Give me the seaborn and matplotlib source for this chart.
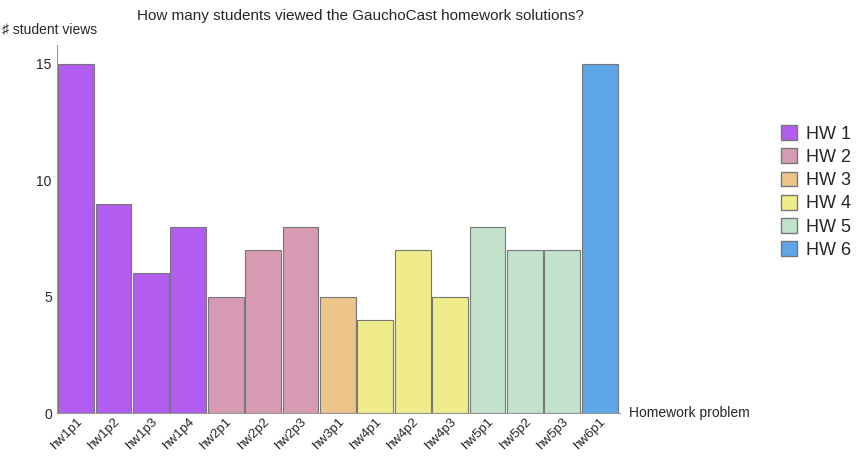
import matplotlib
matplotlib.use("Agg")
import matplotlib.pyplot as plt
import seaborn as sns
import pandas as pd
from matplotlib.patches import Patch

problems = ["hw1p1","hw1p2","hw1p3","hw1p4","hw2p1","hw2p2","hw2p3","hw3p1",
            "hw4p1","hw4p2","hw4p3","hw5p1","hw5p2","hw5p3","hw6p1"]
views = [15, 9, 6, 8, 5, 7, 8, 5, 4, 7, 5, 8, 7, 7, 15]
groups = ["HW 1"]*4 + ["HW 2"]*3 + ["HW 3"] + ["HW 4"]*3 + ["HW 5"]*3 + ["HW 6"]
hw_names = ["HW 1","HW 2","HW 3","HW 4","HW 5","HW 6"]
colors = ["#B35CF0","#D69AB3","#EDC48A","#F0EC8C","#C3E2CC","#5FA6E8"]

df = pd.DataFrame({"problem": problems, "views": views, "hw": groups})
sns.set_style("white")
plt.rcParams['font.family'] = ['Liberation Sans', 'DejaVu Sans']
fig = plt.figure(figsize=(8.59, 4.57), dpi=100)
ax = fig.add_axes([0.066, 0.096, 0.656, 0.805])
sns.barplot(data=df, x="problem", y="views", hue="hw", hue_order=hw_names,
            palette=colors, saturation=1, dodge=False, width=0.96, edgecolor="#777777",
            linewidth=0.8, legend=False, ax=ax)
ax.set_xlim(-0.52, 14.55)
ax.set_ylim(0, 15.8)
ax.set_yticks([0, 5, 10, 15])
ax.set_yticks(range(0, 16), minor=True)
ax.tick_params(axis="y", which="major", direction="in", length=5, color="#999999", labelsize=10)
ax.tick_params(axis="y", which="minor", direction="in", length=3, color="#999999", left=True)
ax.tick_params(axis="x", direction="in", length=4, color="#999999", labelsize=9.5, bottom=True, pad=2)
plt.setp(ax.get_xticklabels(), rotation=45, ha="right", rotation_mode="anchor")
for s in ["top", "right"]:
    ax.spines[s].set_visible(False)
for s in ["left", "bottom"]:
    ax.spines[s].set_color("#999999")
ax.set_xlabel("")
ax.set_ylabel("")
ax.text(1.015, 0, "Homework problem", transform=ax.transAxes, va="center", ha="left", fontsize=10)
fig.text(0.002, 0.935, "♯ student views", va="center", ha="left", fontsize=10)
fig.text(0.42, 0.965, "How many students viewed the GauchoCast homework solutions?",
         ha="center", va="center", fontsize=11)
handles = [Patch(facecolor=c, edgecolor="#777777", label=n) for c, n in zip(colors, hw_names)]
fig.legend(handles=handles, loc="center left", bbox_to_anchor=(0.89, 0.58), frameon=False,
           fontsize=13, handlelength=0.9, handleheight=0.9, labelspacing=0.3, handletextpad=0.5)
fig.savefig("out.png", dpi=100)
